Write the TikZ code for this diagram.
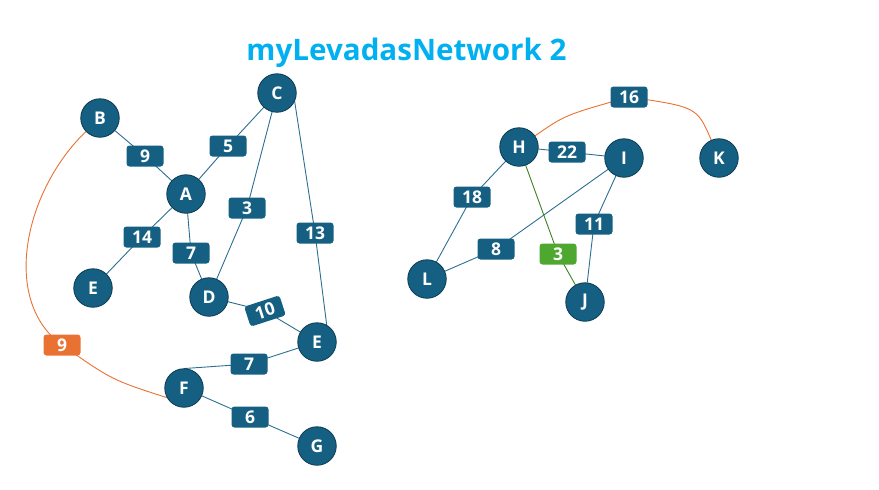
\documentclass[tikz,border=0pt]{standalone}
\usepackage{fontspec}
\setmainfont{Open Sans}
\definecolor{nodeblue}{HTML}{156082}
\definecolor{nodeedge}{HTML}{0C3A52}
\definecolor{edgeblue}{HTML}{2C6F92}
\definecolor{accorange}{HTML}{E97132}
\definecolor{accgreen}{HTML}{4EA72E}
\definecolor{edgegreen}{HTML}{3F8025}
\definecolor{titlecyan}{HTML}{00B0F0}
\begin{document}
\begin{tikzpicture}[x=1pt,y=-1pt,
  vert/.style={circle,draw=nodeedge,line width=0.8pt,fill=nodeblue,minimum size=38.5pt,inner sep=0pt,text=white,font=\fontsize{17.5}{17.5}\selectfont\bfseries},
  wlabel/.style={rectangle,rounded corners=3pt,fill=nodeblue,minimum width=37pt,minimum height=21pt,inner sep=0pt,text=white,font=\fontsize{17.5}{17.5}\selectfont\bfseries},
  olabel/.style={wlabel,fill=accorange},
  glabel/.style={wlabel,fill=accgreen},
  bedge/.style={draw=edgeblue,line width=0.9pt},
  oedge/.style={draw=accorange,line width=0.9pt},
  gedge/.style={draw=edgegreen,line width=0.9pt}]
\useasboundingbox (0,0) rectangle (879,490);
\node[anchor=base,text=titlecyan,font=\fontsize{29.6}{29.6}\selectfont\bfseries] (title) at (406.5,60) {myLevadasNetwork 2};
% label coordinates
\coordinate (cBA) at (145,156);
\coordinate (cAC) at (228,146);
\coordinate (cAE) at (142,237);
\coordinate (cAD) at (191,253);
\coordinate (cCD) at (247,208);
\coordinate (cCE) at (315,233);
\coordinate (cDE) at (265,311);
\coordinate (cFE) at (249,364);
\coordinate (cFG) at (250,417);
\coordinate (cBF) at (62,345);
\coordinate (cHK) at (629,97);
\coordinate (cHI) at (567,152);
\coordinate (cHL) at (472,197);
\coordinate (cIL) at (496,249);
\coordinate (cHJ) at (558,254);
\coordinate (cIJ) at (594,224);
% vertex positions (shapes only, used for connector ends)
\foreach \n/\x/\y in {B/100/118,C/277/93,A/186/194,E1/93/288,D/209/297,E2/317/342,F/184/388,G/317/446,H/519/147,I/624/158,K/719/158,L/427/279,J/585/302}
  \node[circle,minimum size=38.5pt,inner sep=0pt] (\n) at (\x,\y) {};
% edges
\draw[bedge] (B) -- (cBA) -- (A);
\draw[bedge] (A) -- (cAC) -- (C);
\draw[bedge] (A) -- (cAE) -- (E1);
\draw[bedge] (A) -- (cAD) -- (D);
\draw[bedge] (C) -- (cCD) -- (D);
\draw[bedge] (C.-25) -- (cCE) -- (E2.60);
\draw[bedge] (D) -- (cDE) -- (E2);
\draw[bedge] (F.north) -- (cFE) -- (E2);
\draw[bedge] (F) -- (cFG) -- (G);
\draw[oedge] (B) .. controls (25,190) and (0,300) .. (cBF) .. controls (112,380) .. (F.210);
\draw[oedge] (H) .. controls (565,115) .. (cHK) .. controls (697,107) .. (K);
\draw[bedge] (H) -- (cHI) -- (I);
\draw[bedge] (H) -- (cHL) -- (L);
\draw[bedge] (I) -- (cIL) -- (L);
\draw[gedge] (H) -- (cHJ) -- (J);
\draw[bedge] (I) -- (cIJ) -- (J);
% vertices on top
\foreach \n/\t in {B/B,C/C,A/A,E1/E,D/D,E2/E,F/F,G/G,H/H,I/I,K/K,L/L,J/J}
  \node[vert] (\n v) at (\n) {\t};
% weight labels
\node[wlabel] (lBA) at (cBA) {9};
\node[wlabel] (lAC) at (cAC) {5};
\node[wlabel] (lAE) at (cAE) {14};
\node[wlabel] (lAD) at (cAD) {7};
\node[wlabel] (lCD) at (cCD) {3};
\node[wlabel] (lCE) at (cCE) {13};
\node[wlabel,rotate=18] (lDE) at (cDE) {10};
\node[wlabel] (lFE) at (cFE) {7};
\node[wlabel] (lFG) at (cFG) {6};
\node[olabel] (lBF) at (cBF) {9};
\node[wlabel] (lHK) at (cHK) {16};
\node[wlabel] (lHI) at (cHI) {22};
\node[wlabel] (lHL) at (cHL) {18};
\node[wlabel] (lIL) at (cIL) {8};
\node[glabel] (lHJ) at (cHJ) {3};
\node[wlabel] (lIJ) at (cIJ) {11};
\end{tikzpicture}
\end{document}
